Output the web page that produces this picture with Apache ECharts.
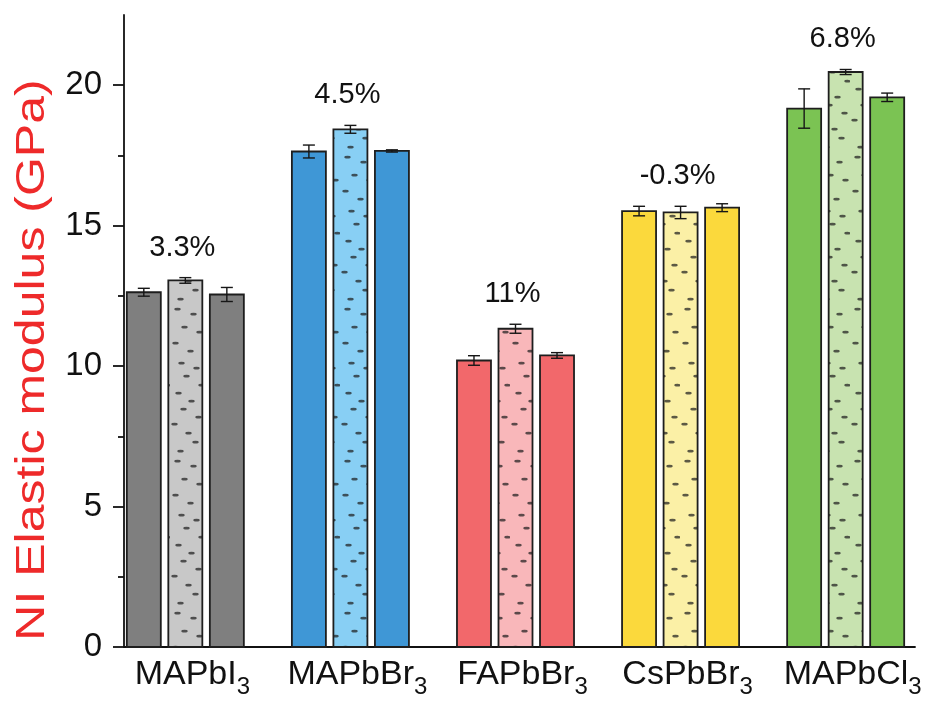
<!DOCTYPE html>
<html><head><meta charset="utf-8">
<script src="https://cdn.jsdelivr.net/npm/echarts@6/dist/echarts.min.js"></script>
<style>html,body{margin:0;padding:0;background:#fff}#c{width:932px;height:703px}</style>
</head><body><div id="c"></div>
<script>
// ---- data ----
const categories = ['MAPbI', 'MAPbBr', 'FAPbBr', 'CsPbBr', 'MAPbCl'];
const subscripts = ['3', '3', '3', '3', '3'];
const leftValues = [12.63, 17.64, 10.20, 15.52, 19.17];
const leftErrors = [0.14, 0.23, 0.17, 0.17, 0.70];
const middleValues = [13.05, 18.43, 11.33, 15.47, 20.47];
const middleErrors = [0.10, 0.14, 0.16, 0.22, 0.09];
const rightValues = [12.55, 17.66, 10.38, 15.64, 19.57];
const rightErrors = [0.25, 0.04, 0.10, 0.14, 0.15];
const changeLabels = ['3.3%', '4.5%', '11%', '-0.3%', '6.8%'];
const yMajorTicks = [0, 5, 10, 15, 20];
const yMinorTicks = [2.5, 7.5, 12.5, 17.5];
const xTickIndex = [0, 1, 2, 3, 4];

// ---- styles ----
const FONT = '"Liberation Sans", Arial, sans-serif';
const mainColors = ['#7f7f7f', '#3f97d6', '#f2686b', '#fbd93c', '#7bc353'];
const lightColors = ['#c8c8c8', '#88cff4', '#f9b7ba', '#fbf0a6', '#c8e3b0'];
const BAR_W = 0.206;   // in category units
const PITCH = 0.2515;  // in category units

// dash pattern (texture only)
const dashSpots = [[5,4],[21,9],[12,22],[27,27],[3,38],[18,46],[9,58],[24,63],[14,71],[29,80],
  [6,88],[19,96],[11,104],[26,112],[2,119],[16,128],[23,137],[8,146]];
function makePattern(bg) {
  const cv = document.createElement('canvas');
  cv.width = 34; cv.height = 152;
  const g = cv.getContext('2d');
  g.fillStyle = bg; g.fillRect(0, 0, cv.width, cv.height);
  g.fillStyle = 'rgba(30,30,30,0.72)';
  dashSpots.forEach(p => { g.beginPath(); g.ellipse(p[0] + 2.5, p[1] + 1.2, 3.2, 1.4, 0, 0, Math.PI * 2); g.fill(); });
  return { image: cv, repeat: 'repeat' };
}
const patterns = lightColors.map(makePattern);

function barSeries(values, errors, slot) {
  return {
    type: 'custom',
    name: 'slot' + slot,
    data: values.map((v, i) => [i, v, errors[i]]),
    renderItem: function (params, api) {
      const k = api.value(0), v = api.value(1), e = api.value(2);
      const cx = k + (slot - 1) * PITCH;
      const pL = api.coord([cx - BAR_W / 2, v]);
      const pR = api.coord([cx + BAR_W / 2, 0]);
      const pC = api.coord([cx, v]);
      const eT = api.coord([cx, v + e])[1];
      const eB = api.coord([cx, v - e])[1];
      const fill = slot === 1 ? patterns[k] : mainColors[k];
      const cap = 6;
      const ls = { stroke: '#161616', lineWidth: 1.4 };
      return {
        type: 'group',
        children: [
          { type: 'rect', shape: { x: pL[0], y: pL[1], width: pR[0] - pL[0], height: pR[1] - pL[1] },
            style: { fill: fill, stroke: '#1e1e1e', lineWidth: 1.8 } },
          { type: 'line', shape: { x1: pC[0], y1: eT, x2: pC[0], y2: eB }, style: ls },
          { type: 'line', shape: { x1: pC[0] - cap, y1: eT, x2: pC[0] + cap, y2: eT }, style: ls },
          { type: 'line', shape: { x1: pC[0] - cap, y1: eB, x2: pC[0] + cap, y2: eB }, style: ls }
        ]
      };
    },
    z: 2
  };
}

const labelSeries = {
  type: 'custom',
  data: middleValues.map((v, i) => [i, v + middleErrors[i], changeLabels[i]]),
  renderItem: function (params, api) {
    const p = api.coord([api.value(0), api.value(1)]);
    return {
      type: 'text', x: p[0] - 3, y: p[1] - 30,
      style: { text: changeLabels[params.dataIndex], fontSize: 29, fontFamily: FONT, fill: '#111',
        align: 'center', verticalAlign: 'middle' }
    };
  },
  z: 3
};

const chart = echarts.init(document.getElementById('c'), null, { renderer: 'canvas' });
chart.setOption({
  backgroundColor: '#ffffff',
  animation: false,
  grid: { left: 124, right: 17, top: 15, bottom: 56, containLabel: false, outerBoundsMode: 'none' },
  xAxis: {
    type: 'value', min: -0.3715, max: 4.42,
    axisLine: { show: true, onZero: false, lineStyle: { color: '#111', width: 1.8 } },
    axisTick: { show: false },
    splitLine: { show: false },
    axisLabel: {
      customValues: xTickIndex,
      margin: 4,
      padding: [0, 0, 0, 14],
      formatter: function (v) { const i = Math.round(v); return '{n|' + categories[i] + '}{s|' + subscripts[i] + '}'; },
      rich: {
        n: { fontSize: 34, fontFamily: FONT, color: '#111', lineHeight: 48, verticalAlign: 'middle' },
        s: { fontSize: 24, fontFamily: FONT, color: '#111', lineHeight: 14, verticalAlign: 'bottom' }
      }
    }
  },
  yAxis: [{
    type: 'value', min: 0, max: 22.5, interval: 5,
    axisLine: { show: true, onZero: false, lineStyle: { color: '#111', width: 1.8 } },
    axisTick: { show: true, customValues: yMajorTicks, length: 11, lineStyle: { color: '#111', width: 1.8 } },
    axisLabel: { customValues: yMajorTicks, fontSize: 33, fontFamily: FONT, color: '#111', margin: 22 },
    splitLine: { show: false }
  }, {
    type: 'value', min: 0, max: 22.5, position: 'left',
    axisLine: { show: false, onZero: false },
    axisTick: { show: true, customValues: yMinorTicks, length: 6, lineStyle: { color: '#111', width: 1.8 } },
    axisLabel: { show: false },
    splitLine: { show: false }
  }],
  graphic: [{
    type: 'text', x: 33, y: 360, rotation: Math.PI / 2, scaleX: 1.25,
    style: { text: 'NI Elastic modulus (GPa)', fontSize: 40, fontFamily: FONT, fill: '#ee2a2a',
      align: 'center', verticalAlign: 'middle' }
  }],
  series: [barSeries(leftValues, leftErrors, 0), barSeries(middleValues, middleErrors, 1),
           barSeries(rightValues, rightErrors, 2), labelSeries]
});
</script></body></html>
